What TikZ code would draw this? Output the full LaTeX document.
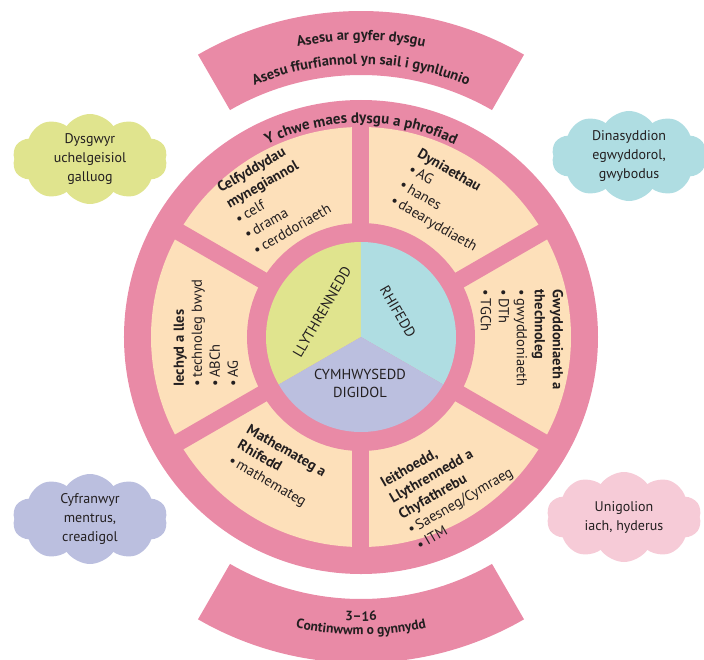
\documentclass[tikz,border=0pt]{standalone}
\usepackage{fontspec}
\setmainfont{PT Sans}
\usetikzlibrary{shapes.symbols,decorations.text}

\definecolor{ringpink}{HTML}{E98AA6}
\definecolor{segpeach}{HTML}{FDE0BA}
\definecolor{litgreen}{HTML}{E0E48E}
\definecolor{numblue}{HTML}{AFDDE2}
\definecolor{digpurple}{HTML}{BBBFDF}
\definecolor{softpink}{HTML}{F6CBD7}
\definecolor{ink}{HTML}{231F20}

\newcommand{\itm}{\textbullet\,}

\tikzset{
  segtext/.style={align=left, text=ink, font=\fontsize{14.5}{18}\selectfont, inner sep=0pt},
  coretext/.style={align=center, text=ink, font=\fontsize{14.5}{18}\selectfont, inner sep=0pt},
  puff/.style={cloud, cloud puffs=10, cloud puff arc=110, aspect=1.7, minimum width=155, minimum height=90,
    align=center, text=ink, font=\fontsize{14}{19}\selectfont, inner sep=0pt},
  arctext/.style={decorate, decoration={text along path, text align=center, text color=ink, text={#1}}},
}

\begin{document}
\begin{tikzpicture}[x=1pt, y=1pt]
\useasboundingbox (-361,-322) rectangle (343,337);

% banners above and below the wheel
\fill[ringpink] (120:262) arc[start angle=120, end angle=60, radius=262] -- (60:326)
  arc[start angle=60, end angle=120, radius=326] -- cycle;
\fill[ringpink] (240:262) arc[start angle=240, end angle=300, radius=262] -- (300:326)
  arc[start angle=300, end angle=240, radius=326] -- cycle;
\path[arctext={|\fontsize{14.5}{17}\selectfont\bfseries|Asesu ar gyfer dysgu}]
  (120:297) arc[start angle=120, end angle=60, radius=297];
\path[arctext={|\fontsize{14.5}{17}\selectfont\bfseries|Asesu ffurfiannol yn sail i gynllunio}]
  (120:273) arc[start angle=120, end angle=60, radius=273];
\path[arctext={|\fontsize{13.5}{16}\selectfont\bfseries|3–16}]
  (240:284) arc[start angle=240, end angle=300, radius=284];
\path[arctext={|\fontsize{13.5}{16}\selectfont\bfseries|Continwwm o gynnydd}]
  (240:298) arc[start angle=240, end angle=300, radius=298];

% the wheel
\fill[ringpink] (0,0) circle (237);
\fill[segpeach] (0,0) circle (210);
\foreach \a in {90,30,-30,-90,150,210}
  \draw[ringpink, line width=17] (0,0) -- (\a:220);
\fill[ringpink] (0,0) circle (114);
\fill[litgreen] (0,0) -- (90:95) arc[start angle=90, end angle=210, radius=95] -- cycle;
\fill[numblue] (0,0) -- (-30:95) arc[start angle=-30, end angle=90, radius=95] -- cycle;
\fill[digpurple] (0,0) -- (210:95) arc[start angle=210, end angle=330, radius=95] -- cycle;
\path[arctext={|\fontsize{15}{17}\selectfont\bfseries|Y chwe maes dysgu a phrofiad}]
  (135:214) arc[start angle=135, end angle=45, radius=214];

% areas of learning
\node[segtext, rotate=30] (arts) at (-87,139) {\textbf{Celfyddydau}\\\textbf{mynegiannol}\\\itm celf\\\itm drama\\\itm cerddoriaeth};
\node[segtext, rotate=-30] (hum) at (86,136) {\textbf{Dyniaethau}\\\itm AG\\\itm hanes\\\itm daearyddiaeth};
\node[segtext, rotate=-90] (sci) at (161,-3) {\textbf{Gwyddoniaeth a}\\\textbf{thechnoleg}\\\itm gwyddoniaeth\\\itm DTh\\\itm TGCh};
\node[segtext, rotate=90] (health) at (-155,4) {\textbf{Iechyd a lles}\\\itm technoleg bwyd\\\itm ABCh\\\itm AG};
\node[segtext, rotate=-30] (maths) at (-84,-130) {\textbf{Mathemateg a}\\\textbf{Rhifedd}\\\itm mathemateg};
\node[segtext, rotate=30] (lang) at (90,-148) {\textbf{Ieithoedd,}\\\textbf{Llythrennedd a}\\\textbf{Chyfathrebu}\\\itm Saesneg/Cymraeg\\\itm ITM};

% core skills
\node[coretext, rotate=60] (lit) at (-39,25) {LLYTHRENNEDD};
\node[coretext, rotate=-60] (num) at (37,25) {RHIFEDD};
\node[coretext] (dig) at (-1,-46) {CYMHWYSEDD\\DIGIDOL};

% four purposes
\node[puff, fill=litgreen] (ambitious) at (-271,178) {Dysgwyr\\uchelgeisiol\\galluog};
\node[puff, fill=numblue] (ethical) at (268,181) {Dinasyddion\\egwyddorol,\\gwybodus};
\node[puff, fill=digpurple] (creative) at (-271,-182) {Cyfranwyr\\mentrus,\\creadigol};
\node[puff, fill=softpink] (healthy) at (263,-180) {Unigolion\\iach, hyderus};
\end{tikzpicture}
\end{document}
